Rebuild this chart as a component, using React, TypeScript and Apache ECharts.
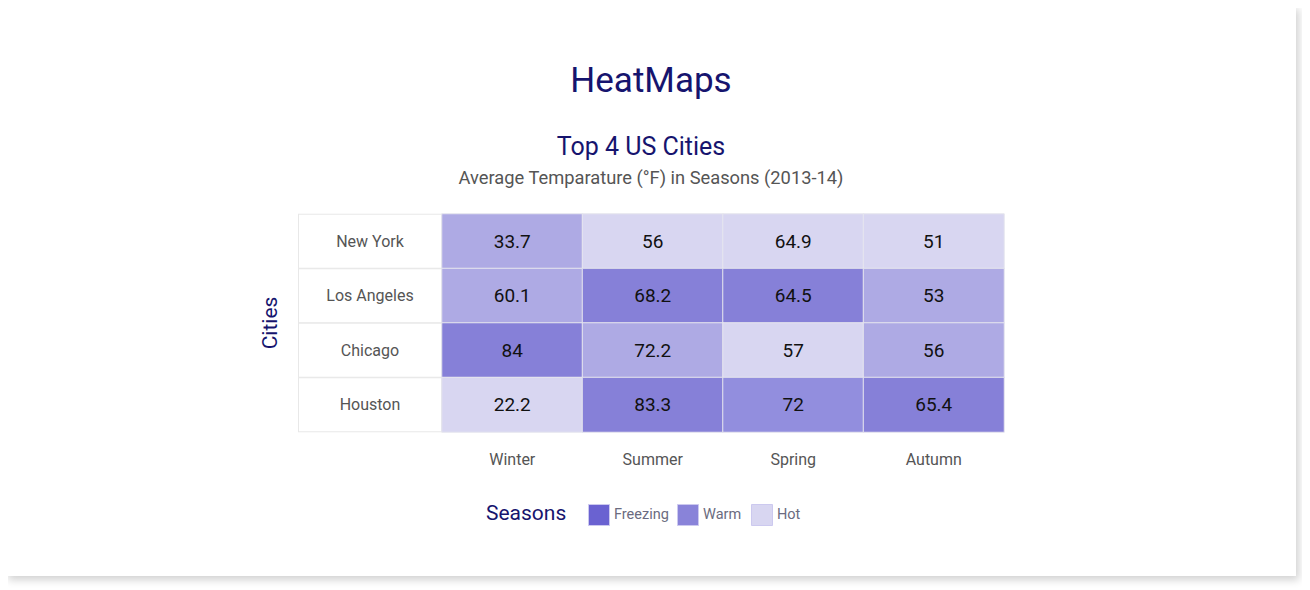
import React, { useEffect, useRef } from "react";
import * as echarts from "echarts";

const seasons = ["Winter", "Summer", "Spring", "Autumn"];
const cities = ["New York", "Los Angeles", "Chicago", "Houston"];
// values per city (rows) per season (columns)
const temps = [
  [33.7, 56, 64.9, 51],
  [60.1, 68.2, 64.5, 53],
  [84, 72.2, 57, 56],
  [22.2, 83.3, 72, 65.4],
];
// shade level of each cell as drawn in the reference (0 light .. 3 dark)
const shadeLevels = [
  [1, 0, 0, 0],
  [1, 3, 3, 1],
  [3, 1, 0, 1],
  [0, 3, 2, 3],
];
const legendNames = ["Freezing", "Warm", "Hot"];

const shadePalette = ["#d8d6f1", "#aeaae4", "#928ede", "#8680d8"];
const legendPalette = ["#6a62d1", "#8983d9", "#d8d6f1"];
const NAVY = "#16146e";
const FONT = "Roboto, 'Noto Sans', sans-serif";

export default function App() {
  const ref = useRef<HTMLDivElement>(null);
  useEffect(() => {
    if (!ref.current) return;
    const chart = echarts.init(ref.current, undefined, { renderer: "svg" });
    const data: any[] = [];
    temps.forEach((row, yi) =>
      row.forEach((v, xi) => {
        data.push([xi, yi, v, shadeLevels[yi][xi]]);
      })
    );

    const legendX = 588;
    const legendY = 504;
    const legendItems: any[] = [];
    const offsets = [0, 89, 163];
    legendNames.forEach((n, i) => {
      legendItems.push({
        type: "rect",
        left: legendX + offsets[i],
        top: legendY,
        shape: { width: 21, height: 21 },
        style: { fill: legendPalette[i], stroke: "#ccc9ef", lineWidth: 1 },
      });
      legendItems.push({
        type: "text",
        left: legendX + offsets[i] + 26,
        top: legendY + 3,
        style: { text: n, fill: "#6b6b80", font: `14.5px ${FONT}` },
      });
    });

    chart.setOption({
      animation: false,
      textStyle: { fontFamily: FONT },
      title: [
        {
          text: "HeatMaps",
          left: 651,
          top: 63,
          padding: 0,
          textAlign: "center",
          textStyle: { fontSize: 35, fontWeight: "normal", color: NAVY },
        },
        {
          text: "Top 4 US Cities",
          left: 641,
          top: 134,
          padding: 0,
          textAlign: "center",
          textStyle: { fontSize: 25, fontWeight: "normal", color: NAVY },
        },
        {
          text: "Average Temparature (°F) in Seasons (2013-14)",
          left: 651,
          top: 168,
          padding: 0,
          textAlign: "center",
          textStyle: { fontSize: 18.3, fontWeight: "normal", color: "#555" },
        },
      ],
      visualMap: {
        type: "piecewise",
        show: false,
        dimension: 3,
        seriesIndex: 0,
        pieces: shadePalette.map((c, i) => ({ value: i, color: c })),
      },
      grid: { left: 442, top: 214, width: 562, height: 218 },
      xAxis: {
        type: "category",
        data: seasons,
        axisLine: { show: false },
        axisTick: { show: false },
        splitArea: { show: false },
        axisLabel: { color: "#555", fontSize: 16, margin: 19, interval: 0 },
      },
      yAxis: {
        type: "category",
        data: cities,
        inverse: true,
        axisLine: { show: false },
        axisTick: { show: false },
        name: "Cities",
        nameLocation: "middle",
        nameRotate: 90,
        nameGap: 162,
        nameTextStyle: { color: NAVY, fontSize: 21 },
        axisLabel: {
          color: "#555",
          fontSize: 16,
          interval: 0,
          hideOverlap: false,
          showMinLabel: true,
          showMaxLabel: true,
          align: "center",
          margin: 72,
          width: 142,
          height: 53,
          lineHeight: 53,
          backgroundColor: "#fff",
          borderColor: "#e8e8e8",
          borderWidth: 1,
        },
      },
      series: [
        {
          type: "heatmap",
          data,
          encode: { x: 0, y: 1, value: 2 },
          label: {
            show: true,
            color: "#111",
            fontSize: 19,
            formatter: (p: any) => String(p.data[2]),
          },
          itemStyle: { borderColor: "#e6e6ee", borderWidth: 1 },
          emphasis: { disabled: true },
        },
      ],
      graphic: [
        {
          type: "text",
          left: 486,
          top: 502,
          style: { text: "Seasons", fill: NAVY, font: `21px ${FONT}` },
        },
        ...legendItems,
      ],
    });
    return () => chart.dispose();
  }, []);

  return (
    <div style={{ position: "relative", width: 1310, height: 590 }}>
      <div
        style={{
          position: "absolute",
          left: -3,
          top: -3,
          width: 1291,
          height: 571,
          background: "#fff",
          boxShadow: "3px 4px 8px rgba(0,0,0,0.18)",
        }}
      />
      <div
        ref={ref}
        style={{ position: "absolute", left: -8, top: -8, width: 1310, height: 590 }}
      />
    </div>
  );
}
